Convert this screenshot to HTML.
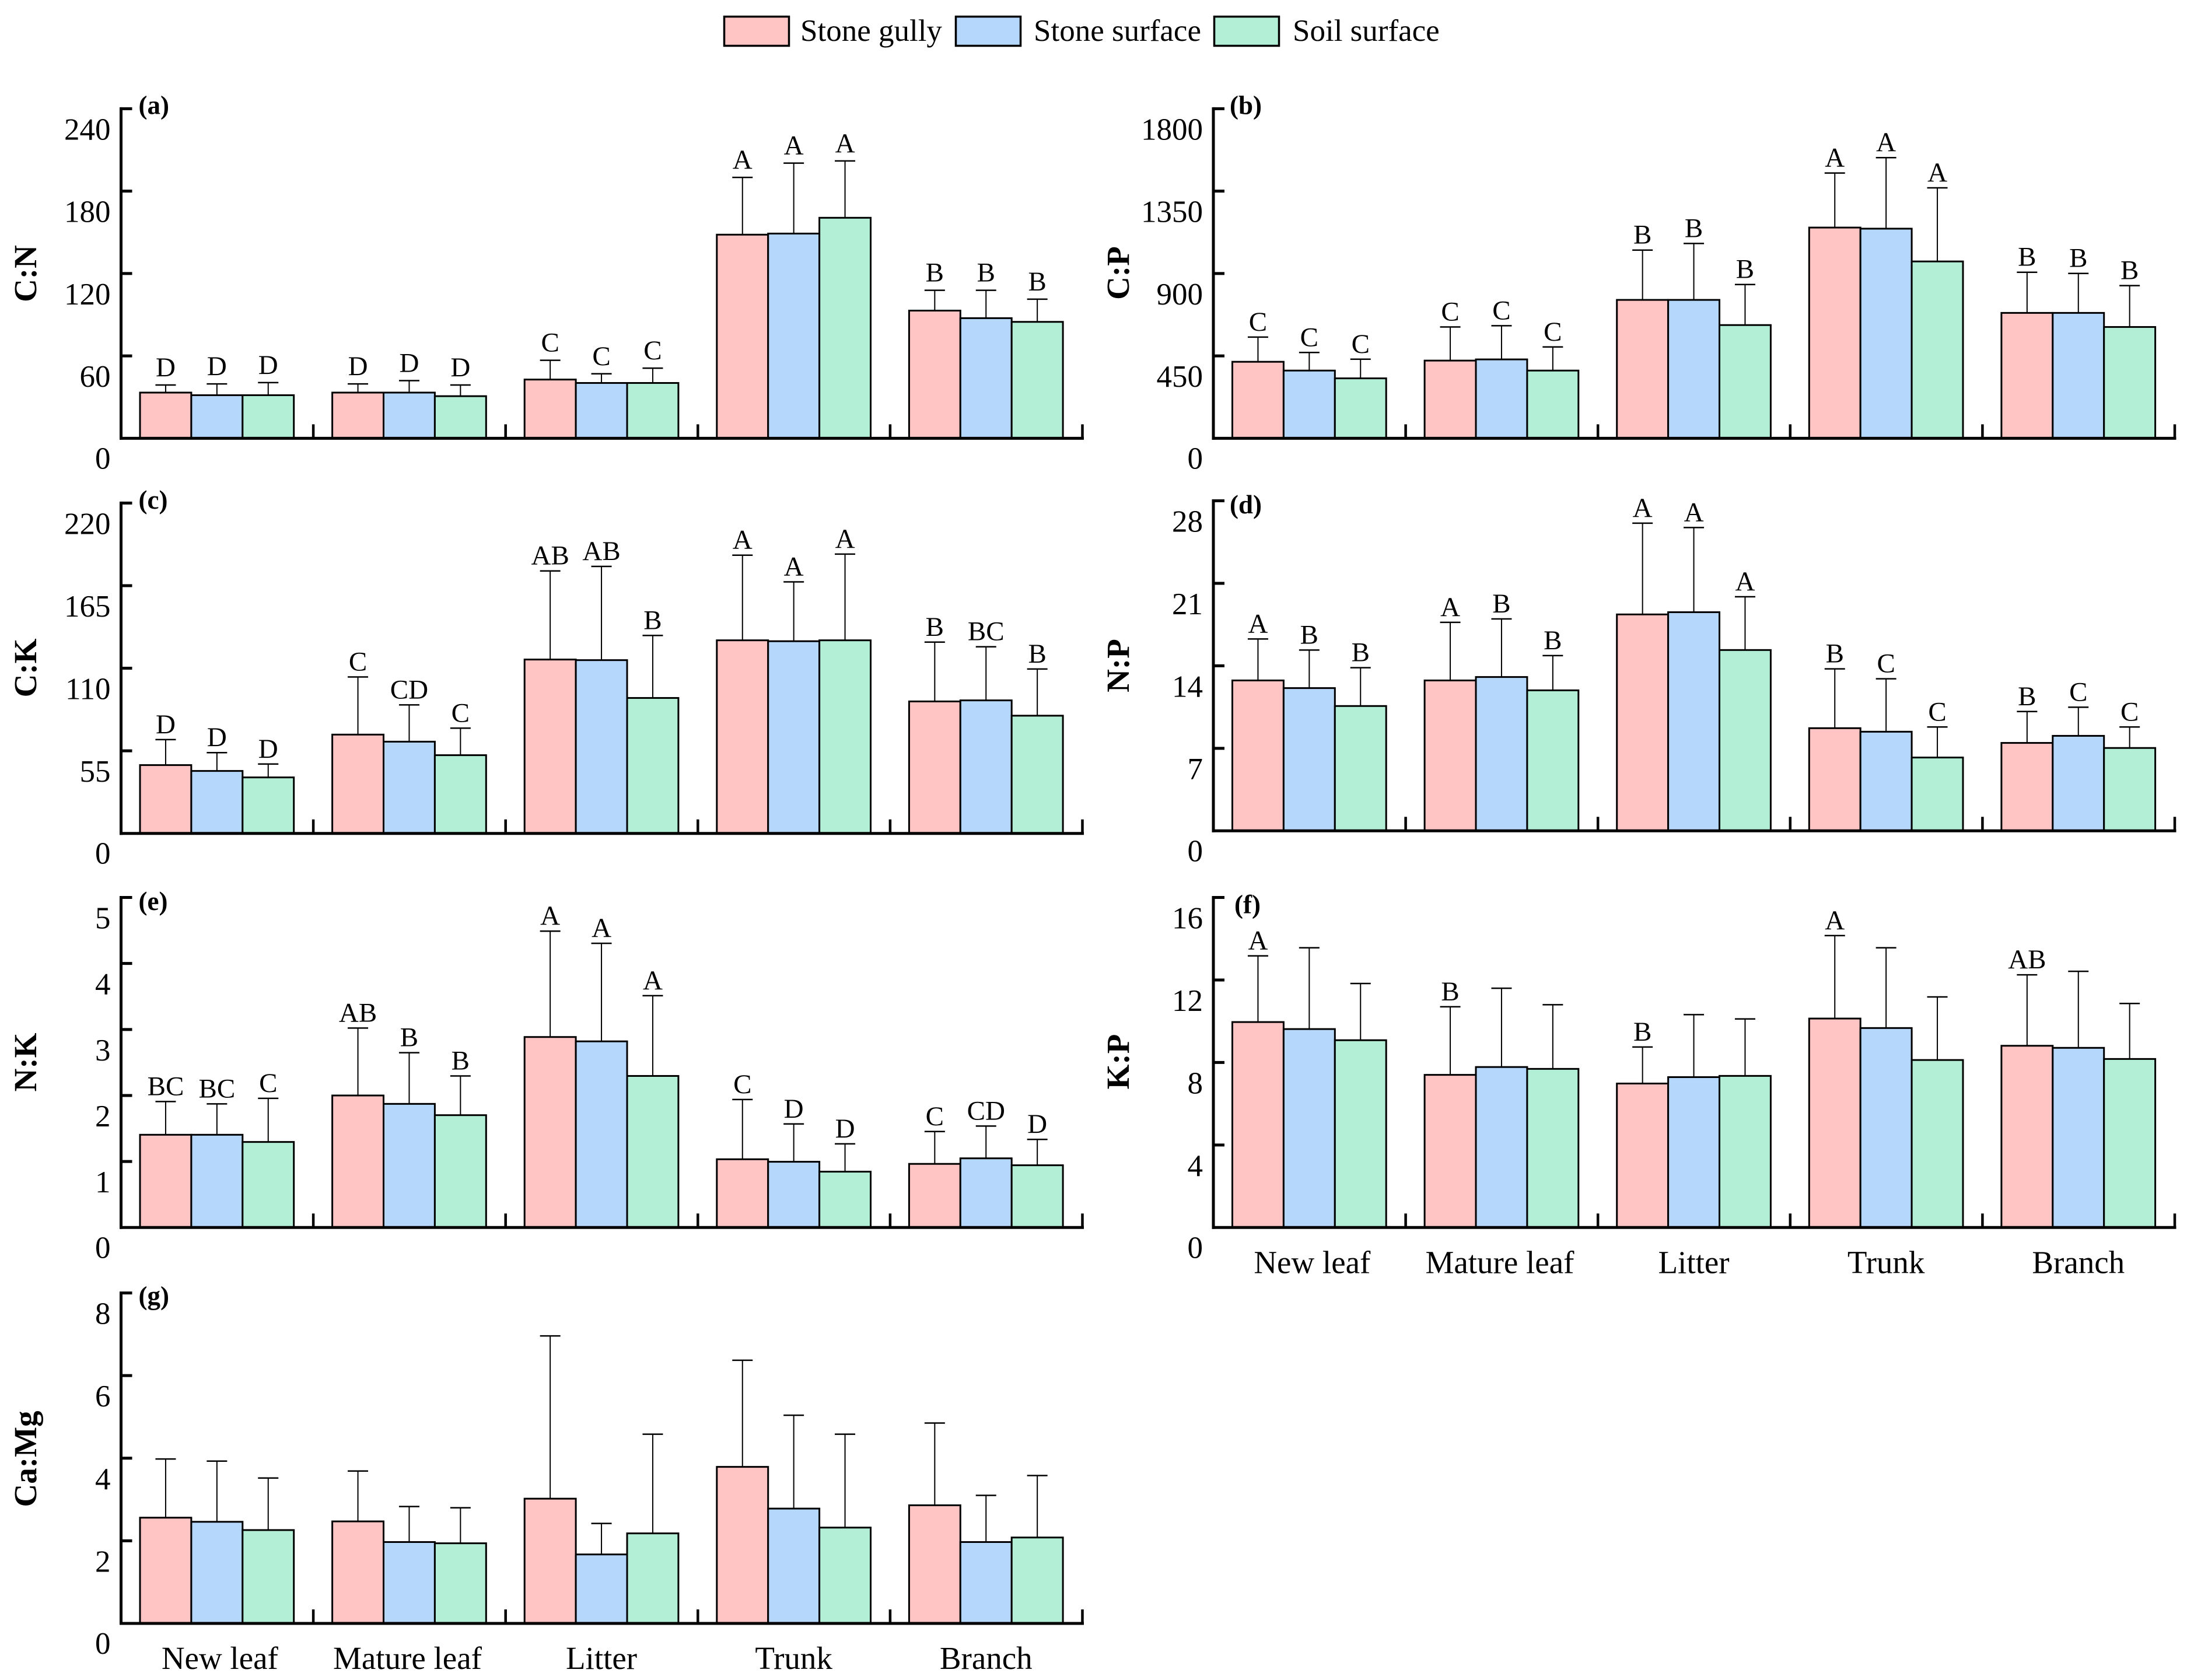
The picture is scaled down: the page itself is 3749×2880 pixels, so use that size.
<!DOCTYPE html>
<html lang="en">
<head>
<meta charset="utf-8">
<title>Stoichiometric ratios by organ and habitat</title>
<style>
html,body{margin:0;padding:0;background:#fff;}
svg{display:block;}
text{font-family:"Liberation Serif",serif;fill:#000;}
.legend-text{font-size:53px;}
.y-title{font-size:55px;font-weight:bold;text-anchor:middle;}
.panel-label{font-size:45px;font-weight:bold;}
.tick-label{font-size:53px;text-anchor:end;}
.cat-label{font-size:55px;text-anchor:middle;}
.sig-label{font-size:47px;text-anchor:middle;}
</style>
</head>
<body>
<svg id="chart" xmlns="http://www.w3.org/2000/svg" width="3749" height="2880" viewBox="0 0 3749 2880">
  <rect x="0" y="0" width="3749" height="2880" fill="#ffffff"/>
  <g>
    <rect x="1241.5" y="28.5" width="111" height="50" fill="#FFC4C4" stroke="#000" stroke-width="3.5"/>
    <text class="legend-text" x="1372" y="70">Stone gully</text>
    <rect x="1638.5" y="28.5" width="111" height="50" fill="#B4D7FB" stroke="#000" stroke-width="3.5"/>
    <text class="legend-text" x="1772" y="70">Stone surface</text>
    <rect x="2081.5" y="28.5" width="111" height="50" fill="#B3EED6" stroke="#000" stroke-width="3.5"/>
    <text class="legend-text" x="2216" y="70">Soil surface</text>
  </g>
  <text class="y-title" transform="translate(62,469) rotate(-90)">C:N</text>
  <text class="y-title" transform="translate(1935,468) rotate(-90)">C:P</text>
  <text class="y-title" transform="translate(62,1145) rotate(-90)">C:K</text>
  <text class="y-title" transform="translate(1935,1141) rotate(-90)">N:P</text>
  <text class="y-title" transform="translate(62,1821) rotate(-90)">N:K</text>
  <text class="y-title" transform="translate(1935,1820) rotate(-90)">K:P</text>
  <text class="y-title" transform="translate(62,2501) rotate(-90)">Ca:Mg</text>
  <text class="panel-label" x="237.5" y="195.5">(a)</text>
  <text class="panel-label" x="2108" y="195.5">(b)</text>
  <text class="panel-label" x="237.5" y="872">(c)</text>
  <text class="panel-label" x="2108" y="880">(d)</text>
  <text class="panel-label" x="237.5" y="1560">(e)</text>
  <text class="panel-label" x="2116" y="1565.5">(f)</text>
  <text class="panel-label" x="237.5" y="2236.5">(g)</text>
</svg>
<script>
const categories = ['New leaf', 'Mature leaf', 'Litter', 'Trunk', 'Branch'];
const seriesNames = ['stone-gully', 'stone-surface', 'soil-surface'];
const seriesColors = ['#FFC4C4', '#B4D7FB', '#B3EED6'];

/* Each value array holds 15 entries: 3 series (gully, surface, soil) per category. */
const cnTicks = [60, 120, 180, 240];
const cnMeans = [33.3, 31.4, 31.4, 33.3, 33.3, 30.7, 42.8, 40.3, 40.3, 148.3, 149.1, 160.6, 93, 87.5, 84.8];
const cnUpper = [38.8, 39.6, 40.6, 39.6, 42, 38.8, 56.8, 47, 51.1, 190, 200.4, 202, 107.8, 107.8, 101.3];
const cnLetters = ['D', 'D', 'D', 'D', 'D', 'D', 'C', 'C', 'C', 'A', 'A', 'A', 'B', 'B', 'B'];

const cpTicks = [450, 900, 1350, 1800];
const cpMeans = [418, 370, 327.5, 424.5, 431, 370, 756, 756, 618.5, 1151, 1145, 966, 685, 685, 608];
const cpUpper = [553, 468.6, 432, 608, 615, 499, 1028, 1064, 840, 1449, 1533, 1368, 907, 900.6, 834];
const cpLetters = ['C', 'C', 'C', 'C', 'C', 'C', 'B', 'B', 'B', 'A', 'A', 'A', 'B', 'B', 'B'];

const ckTicks = [55, 110, 165, 220];
const ckMeans = [45.5, 41.6, 37.3, 65.8, 61.1, 52.1, 115.8, 115.4, 90.2, 128.6, 128, 128.6, 87.9, 88.6, 78.4];
const ckUpper = [62.5, 53.8, 46.2, 104.2, 85.6, 70.1, 174.8, 177.8, 131.8, 185.3, 167.5, 186, 127.4, 124.3, 109.5];
const ckLetters = ['D', 'D', 'D', 'C', 'CD', 'C', 'AB', 'AB', 'B', 'A', 'A', 'A', 'B', 'BC', 'B'];

const npTicks = [7, 14, 21, 28];
const npMeans = [12.76, 12.11, 10.59, 12.76, 13.05, 11.92, 18.36, 18.55, 15.34, 8.71, 8.41, 6.22, 7.46, 8.06, 7.03];
const npUpper = [16.28, 15.34, 13.84, 17.69, 17.98, 14.87, 26.1, 25.73, 19.86, 13.74, 12.9, 8.81, 10.12, 10.49, 8.81];
const npLetters = ['A', 'B', 'B', 'A', 'B', 'B', 'A', 'A', 'A', 'B', 'C', 'C', 'B', 'C', 'C'];

const nkTicks = [1, 2, 3, 4, 5];
const nkMeans = [1.405, 1.405, 1.296, 2.0, 1.873, 1.702, 2.886, 2.82, 2.296, 1.034, 0.996, 0.846, 0.964, 1.048, 0.943];
const nkUpper = [1.908, 1.873, 1.957, 3.022, 2.648, 2.296, 4.49, 4.305, 3.512, 1.939, 1.569, 1.268, 1.454, 1.537, 1.335];
const nkLetters = ['BC', 'BC', 'C', 'AB', 'B', 'B', 'A', 'A', 'A', 'C', 'D', 'D', 'C', 'CD', 'D'];

const kpTicks = [4, 8, 12, 16];
const kpMeans = [9.96, 9.62, 9.08, 7.4, 7.78, 7.69, 6.98, 7.29, 7.35, 10.13, 9.67, 8.12, 8.81, 8.71, 8.17];
const kpUpper = [13.17, 13.56, 11.83, 10.7, 11.6, 10.8, 8.75, 10.32, 10.11, 14.15, 13.56, 11.18, 12.25, 12.42, 10.86];
const kpLetters = ['A', '', '', 'B', '', '', 'B', '', '', 'A', '', '', 'AB', '', ''];

const camgTicks = [2, 4, 6, 8];
const camgMeans = [2.56, 2.46, 2.26, 2.47, 1.97, 1.94, 3.02, 1.67, 2.18, 3.79, 2.78, 2.32, 2.86, 1.97, 2.08];
const camgUpper = [3.98, 3.93, 3.52, 3.69, 2.83, 2.8, 6.96, 2.42, 4.58, 6.37, 5.04, 4.58, 4.85, 3.1, 3.58];
const camgLetters = [];

const panels = [
  {key: 'c-n', left: 207.5, top: 186.4, base: 751.4, gap: 15, cats: false, ticks: cnTicks, means: cnMeans, upper: cnUpper, letters: cnLetters},
  {key: 'c-p', left: 2080, top: 186.4, base: 751.4, gap: 11, cats: false, ticks: cpTicks, means: cpMeans, upper: cpUpper, letters: cpLetters},
  {key: 'c-k', left: 207.5, top: 862.4, base: 1428.7, gap: 11, cats: false, ticks: ckTicks, means: ckMeans, upper: ckUpper, letters: ckLetters},
  {key: 'n-p', left: 2080, top: 858.5, base: 1424.3, gap: 11, cats: false, ticks: npTicks, means: npMeans, upper: npUpper, letters: npLetters},
  {key: 'n-k', left: 207.5, top: 1538.5, base: 2104.3, gap: 11, cats: false, ticks: nkTicks, means: nkMeans, upper: nkUpper, letters: nkLetters},
  {key: 'k-p', left: 2080, top: 1538.5, base: 2104.3, gap: 11, cats: true, ticks: kpTicks, means: kpMeans, upper: kpUpper, letters: kpLetters},
  {key: 'ca-mg', left: 207.5, top: 2216.5, base: 2783, gap: 11, cats: true, ticks: camgTicks, means: camgMeans, upper: camgUpper, letters: camgLetters}
];

const catOffsets = [5, -3, 0, 0, 0];
const NS = 'http://www.w3.org/2000/svg';
const root = document.getElementById('chart');

function make(parent, tag, attrs) {
  const node = document.createElementNS(NS, tag);
  for (const k in attrs) node.setAttribute(k, attrs[k]);
  parent.appendChild(node);
  return node;
}

function drawPanel(p) {
  const groupStep = 329.6;
  const barW = 87.9;
  const pad = 32.5;
  const axisMax = p.ticks[p.ticks.length - 1];
  const yScale = v => p.base - (v / axisMax) * (p.base - p.top);
  const groupX = i => p.left + i * groupStep;
  const barX = (i, s) => groupX(i) + pad + s * barW;

  const g = make(root, 'g', {});
  
  

  categories.forEach((cat, i) => {
    seriesNames.forEach((sName, s) => {
      const idx = i * 3 + s;
      const mean = p.means[idx];
      const up = p.upper[idx];
      const cx = barX(i, s) + barW / 2;
      const yTop = yScale(up);
      const yMean = yScale(mean);

      const stem = make(g, 'line', {x1: cx, x2: cx, y1: yTop, y2: yMean, stroke: '#000', 'stroke-width': 2});
      
      

      const cap = make(g, 'line', {x1: cx - 17.5, x2: cx + 17.5, y1: yTop, y2: yTop, stroke: '#000', 'stroke-width': 2.5});
      
      

      const bar = make(g, 'rect', {x: barX(i, s), y: yMean, width: barW, height: p.base - yMean, fill: seriesColors[s], stroke: '#000', 'stroke-width': 3});
      
      

      const letter = p.letters[idx];
      if (letter) {
        const sig = make(g, 'text', {x: cx, y: yTop - p.gap, class: 'sig-label'});
        sig.textContent = letter;
        
        
      }
    });
  });

  const yAxis = make(g, 'line', {x1: p.left, x2: p.left, y1: p.top - 2.5, y2: p.base + 2.5, stroke: '#000', 'stroke-width': 5});
  
  

  const xAxis = make(g, 'line', {x1: p.left - 2.5, x2: p.left + 5 * groupStep + 2.5, y1: p.base, y2: p.base, stroke: '#000', 'stroke-width': 5});
  
  

  p.ticks.forEach(t => {
    const ty = yScale(t);
    const tick = make(g, 'line', {x1: p.left, x2: p.left + 19, y1: ty, y2: ty, stroke: '#000', 'stroke-width': 5});
    
    

    const lab = make(g, 'text', {x: p.left - 18, y: ty + 53, class: 'tick-label'});
    lab.textContent = t;
    
    
  });

  const zero = make(g, 'text', {x: p.left - 18, y: p.base + 52, class: 'tick-label'});
  zero.textContent = '0';
  
  

  categories.forEach((cat, i) => {
    const tx = groupX(i + 1);
    const tick = make(g, 'line', {x1: tx, x2: tx, y1: p.base, y2: p.base - 24, stroke: '#000', 'stroke-width': 4.5});
    
    

    if (p.cats) {
      const lab = make(g, 'text', {x: groupX(i) + pad + 1.5 * barW + catOffsets[i], y: p.base + 78, class: 'cat-label'});
      lab.textContent = cat;
      
      
    }
  });
}

panels.forEach(drawPanel);
</script>
</body>
</html>
